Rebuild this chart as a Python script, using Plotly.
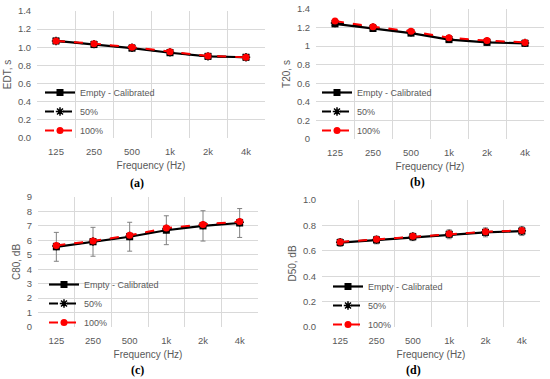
import plotly.graph_objects as go

freqs = ["125", "250", "500", "1k", "2k", "4k"]

edt_empty = [1.07, 1.03, 0.99, 0.94, 0.90, 0.89]
edt_50 = [1.07, 1.035, 0.995, 0.945, 0.90, 0.89]
edt_100 = [1.07, 1.04, 1.0, 0.95, 0.905, 0.89]

t20_empty = [1.24, 1.19, 1.14, 1.07, 1.04, 1.03]
t20_50 = [1.25, 1.20, 1.15, 1.08, 1.05, 1.035]
t20_100 = [1.27, 1.21, 1.16, 1.09, 1.06, 1.04]

c80_empty = [5.55, 5.9, 6.25, 6.7, 7.0, 7.2]
c80_50 = [5.6, 5.92, 6.3, 6.78, 7.05, 7.25]
c80_100 = [5.65, 5.95, 6.35, 6.85, 7.1, 7.3]
c80_err = [1.0, 1.0, 1.0, 1.0, 1.05, 1.0]

d50_empty = [0.665, 0.685, 0.71, 0.73, 0.745, 0.755]
d50_50 = [0.668, 0.688, 0.713, 0.733, 0.748, 0.758]
d50_100 = [0.67, 0.69, 0.715, 0.735, 0.75, 0.76]
d50_err = [0.03, 0.03, 0.03, 0.035, 0.035, 0.035]

series_names = ["Empty - Calibrated", "50%", "100%"]
xidx = list(range(len(freqs)))

W, H = 550, 379
GRAY = "#595959"
GRID = "#d9d9d9"
FONT = "Liberation Sans"

panels = [
    ((edt_empty, edt_50, edt_100), None, "EDT, s", [0, 1.4], 0.2, ".1f",
     (37, 265), (11, 138), "(a)", (137, 183), (40, 78)),
    ((t20_empty, t20_50, t20_100), None, "T20, s", [0, 1.4], 0.2, "",
     (316, 544), (9, 139), "(b)", (417, 182), (317, 78)),
    ((c80_empty, c80_50, c80_100), c80_err, "C80, dB", [0, 9], 1, "",
     (38, 258), (197, 327), "(c)", (137, 370), (44, 270)),
    ((d50_empty, d50_50, d50_100), d50_err, "D50, dB", [0, 1.0], 0.2, ".1f",
     (322, 540), (200, 327), "(d)", (413, 370), (328, 272)),
]

fig = go.Figure()
annotations = []
layout = {}

for i, (data, err, ytitle, yr, dt, tf, xpx, ypx, cap, cpos, lpos) in enumerate(panels):
    n = "" if i == 0 else str(i + 1)
    xa, ya = "x" + n, "y" + n
    leg = "legend" + n
    styles = [
        dict(line=dict(color="black", width=2.2), marker=dict(symbol="square", size=7, color="black")),
        dict(line=dict(color="black", width=2, dash="dash"),
             marker=dict(symbol="asterisk-open", size=7, color="black", line=dict(width=1.5, color="black"))),
        dict(line=dict(color="#ff0000", width=2, dash="dash"),
             marker=dict(symbol="circle", size=7, color="#ff0000")),
    ]
    for j, (vals, st) in enumerate(zip(data, styles)):
        kw = {}
        if err is not None and j == 0:
            kw["error_y"] = dict(type="data", array=err, visible=True, color="#808080",
                                 thickness=1, width=2.5)
        fig.add_trace(go.Scatter(x=xidx, y=vals, mode="lines+markers", name=series_names[j],
                                 xaxis=xa, yaxis=ya, legend=leg, **st, **kw))
    layout["xaxis" + n] = dict(
        domain=[xpx[0] / W, xpx[1] / W], anchor=ya, range=[-0.5, 5.5], automargin=False,
        tickvals=xidx, ticktext=freqs, showgrid=False, zeroline=False, showline=False,
        ticks="outside", ticklen=5, tickcolor="rgba(0,0,0,0)",
        tickfont=dict(family=FONT, size=9.5, color=GRAY),
        title=dict(text="Frequency (Hz)", font=dict(family=FONT, size=10, color=GRAY), standoff=5),
        minor=dict(tickvals=[k - 0.5 for k in range(7)], showgrid=True, gridcolor=GRID, gridwidth=1, ticks=""),
    )
    layout["yaxis" + n] = dict(
        domain=[1 - ypx[1] / H, 1 - ypx[0] / H], anchor=xa, range=yr, dtick=dt, tick0=0, automargin=False,
        tickformat=tf, showgrid=True, gridcolor=GRID, gridwidth=1, zeroline=False, showline=False,
        ticks="outside", ticklen=3, tickcolor="rgba(0,0,0,0)",
        tickfont=dict(family=FONT, size=9.5, color=GRAY),
        title=dict(text=ytitle, font=dict(family=FONT, size=10, color=GRAY), standoff=4),
    )
    layout[leg] = dict(
        x=lpos[0] / W, y=1 - lpos[1] / H, xanchor="left", yanchor="top",
        bgcolor="rgba(0,0,0,0)", font=dict(family=FONT, size=9, color=GRAY),
        itemwidth=30, tracegroupgap=0,
    )
    annotations.append(dict(text="<b>" + cap + "</b>", x=cpos[0] / W, y=1 - cpos[1] / H,
                            xref="paper", yref="paper", showarrow=False,
                            xanchor="center", yanchor="middle",
                            font=dict(family="Liberation Serif", size=12, color="black")))

fig.update_layout(
    width=W, height=H, margin=dict(l=0, r=0, t=0, b=0, autoexpand=False),
    paper_bgcolor="white", plot_bgcolor="white",
    annotations=annotations, **layout,
)

fig.write_html("out.html", config={"displayModeBar": False},
               post_script="document.body.style.margin='0px';")
